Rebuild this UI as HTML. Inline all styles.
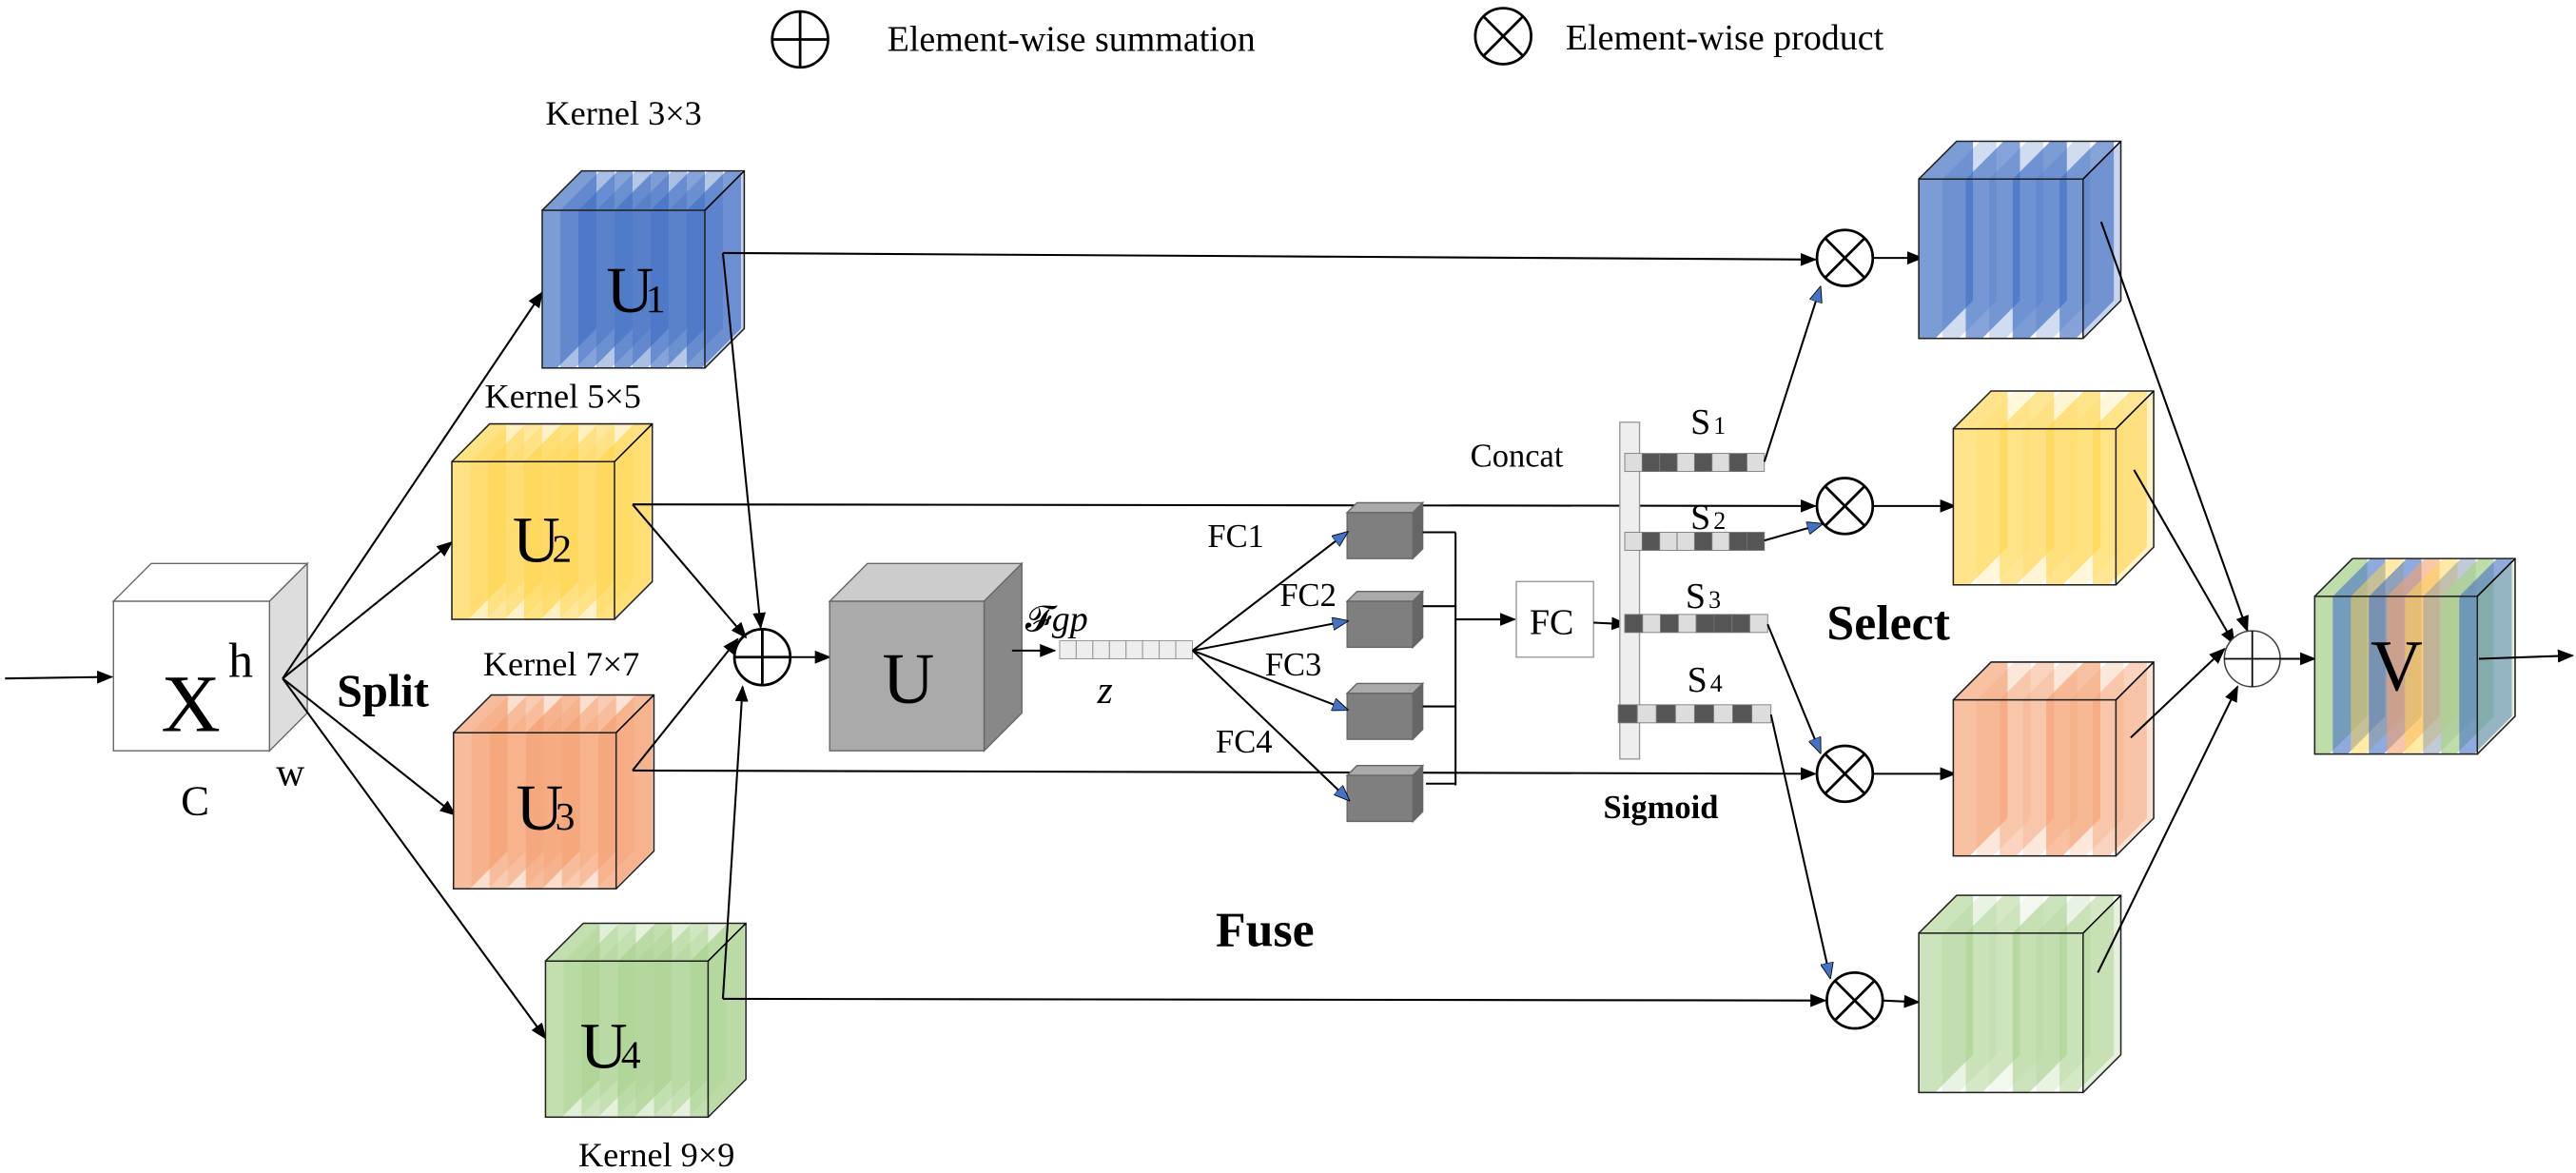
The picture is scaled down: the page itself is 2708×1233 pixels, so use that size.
<!DOCTYPE html>
<html><head><meta charset="utf-8"><style>
html,body{margin:0;padding:0;background:#fff;}
svg{display:block;}
svg text{font-family:"Liberation Serif","Times New Roman","DejaVu Serif",serif;}
</style></head><body>
<svg id="s" width="2708" height="1233" viewBox="0 0 1568 714" xmlns="http://www.w3.org/2000/svg">
<defs>
<marker id="ah" markerWidth="10" markerHeight="8" refX="9" refY="4" orient="auto" markerUnits="userSpaceOnUse"><path d="M0,0 L10,4 L0,8 z" fill="#000"/></marker>
<marker id="bh" markerWidth="10" markerHeight="8" refX="9" refY="4" orient="auto" markerUnits="userSpaceOnUse"><path d="M0,0 L10,4 L0,8 z" fill="#4472c4" stroke="#000" stroke-width="0.5"/></marker>
</defs>
<g id="g"></g>
</svg>
<script>
var g=document.getElementById('g');var out='';
function P(s){out+=s;}
function line(x1,y1,x2,y2,m,w){P('<line x1="'+x1+'" y1="'+y1+'" x2="'+x2+'" y2="'+y2+'" stroke="#000" stroke-width="'+(w||1.2)+'"'+(m?' marker-end="url(#'+m+')"':'')+'/>');}
function poly(pts,f,st,op){P('<polygon points="'+pts+'" fill="'+f+'" stroke="'+(st||'none')+'" stroke-width="0.8"'+(op!=null?' fill-opacity="'+op+'"':'')+'/>');}
function txt(x,y,s,sz,extra){P('<text x="'+x+'" y="'+y+'" font-size="'+sz+'" fill="#000" '+(extra||'')+'>'+s+'</text>');}
function cubeOutline(x,y,w,h,d){
 P('<rect x="'+x+'" y="'+y+'" width="'+w+'" height="'+h+'" fill="none" stroke="#222" stroke-width="0.9"/>');
 P('<polyline points="'+x+','+y+' '+(x+d)+','+(y-d)+' '+(x+w+d)+','+(y-d)+' '+(x+w+d)+','+(y+h-d)+' '+(x+w)+','+(y+h)+'" fill="none" stroke="#222" stroke-width="0.9"/>');
 line(x+w,y,x+w+d,y-d,null,0.9);
}
function solidCube(x,y,w,h,d,fr,tp,sd){
 poly(x+','+y+' '+(x+d)+','+(y-d)+' '+(x+w+d)+','+(y-d)+' '+(x+w)+','+y,tp,'#666');
 poly((x+w)+','+y+' '+(x+w+d)+','+(y-d)+' '+(x+w+d)+','+(y+h-d)+' '+(x+w)+','+(y+h),sd,'#666');
 P('<rect x="'+x+'" y="'+y+'" width="'+w+'" height="'+h+'" fill="'+fr+'" stroke="#666" stroke-width="0.8"/>');
}
function slab(x,y,h,d,t,sw,c,op){
 var a=x+t;poly(a+','+(y+h)+' '+a+','+y+' '+(a+d)+','+(y-d)+' '+(a+sw+d)+','+(y-d)+' '+(a+sw+d)+','+(y+h-d)+' '+(a+sw)+','+(y+h),c,null,op);
}
function stripedCube(x,y,w,h,d,cols,n,sw,opBase){
 P('<rect x="'+x+'" y="'+y+'" width="'+w+'" height="'+h+'" fill="#fff"/>');
 for(var i=0;i<n;i++){var c=cols[i%cols.length];slab(x,y,h,d,i*(w/n),sw,c,opBase[i%opBase.length]);}
 poly((x+w)+','+y+' '+(x+w+d)+','+(y-d)+' '+(x+w+d)+','+(y+h-d)+' '+(x+w)+','+(y+h),cols[0],null,0.3);
 cubeOutline(x,y,w,h,d);
}
P('<circle cx="487" cy="24" r="17" fill="none" stroke="#000" stroke-width="1.6"/>');line(470,24,504,24,null,1.6);line(487,7,487,41,null,1.6);
txt(540,31,'Element-wise summation',22);
P('<circle cx="915" cy="22" r="17" fill="none" stroke="#000" stroke-width="1.6"/>');line(903,10,927,34,null,1.6);line(927,10,903,34,null,1.6);
txt(953,30,'Element-wise product',22);
solidCube(69,366,95,91,23,'#fff','#fff','#ddd');
txt(98,445,'X',50);txt(139,412,'h',30);txt(110,496,'C',26);txt(168,478,'w',24);
line(3,413,68,412,'ah');
txt(205,430,'Split',28,'font-weight="bold"');
line(172,413,330,178,'ah');line(172,413,275,330,'ah');line(172,413,277,496,'ah');line(172,413,332,632,'ah');
var B='#4472c4',Y='#ffd54f',O='#f4a070',G='#a9d18e';
stripedCube(330,128,99,96,24,[B],9,9,[0.7,0.45,0.65,0.4]);
txt(369,190,'U',40);txt(393,190,'1',24);
txt(332,76,'Kernel 3×3',21);
txt(295,248,'Kernel 5×5',21);
stripedCube(275,281,99,96,23,[Y],9,10,[0.7,0.35,0.55,0.3]);
txt(312,342,'U',40);txt(336,342,'2',24);
txt(294,411,'Kernel 7×7',21);
stripedCube(276,446,99,95,23,[O],9,10,[0.7,0.35,0.55,0.3]);
txt(314,505,'U',40);txt(338,505,'3',24);
stripedCube(332,585,99,95,23,[G],9,10,[0.7,0.35,0.55,0.3]);
txt(353,650,'U',40);txt(378,650,'4',24);
txt(352,710,'Kernel 9×9',21);
P('<circle cx="464" cy="400" r="17" fill="#fff" stroke="#000" stroke-width="1.6"/>');line(447,400,481,400,null,1.6);line(464,383,464,417,null,1.6);
line(440,154,463,382,'ah');line(385,307,454,388,'ah');line(385,469,449,389,'ah');line(440,608,452,418,'ah');
line(440,154,1105,158,'ah');line(385,307,1105,308,'ah');line(385,469,1105,471,'ah');line(440,608,1111,609,'ah');
line(481,400,505,400,'ah');
solidCube(505,366,94,91,23,'#aaa','#ccc','#888');
txt(537,428,'U',44);
txt(624,384,'𝓕<tspan font-style="italic">gp</tspan>',22);
line(616,396,642,396,'ah');
for(var i=0;i<8;i++)P('<rect x="'+(645+i*10.1)+'" y="390" width="10.1" height="11" fill="#eee" stroke="#999" stroke-width="0.6"/>');
txt(668,428,'z',24,'font-style="italic"');
var fy=[307,361,417,467];
for(var i=0;i<4;i++){solidCube(820,fy[i]+5,40,28,6,'#7f7f7f','#aaa','#666');}
line(726,396,820,324,'bh');line(726,396,820,378,'bh');line(726,396,820,432,'bh');line(726,396,821,487,'bh');
txt(735,333,'FC1',20);txt(779,369,'FC2',20);txt(770,411,'FC3',20);txt(740,458,'FC4',20);
line(866,324,886,324);line(866,369,886,369);line(866,430,886,430);line(868,477,886,477);line(886,324,886,478);
line(886,377,922,377,'ah');
txt(895,284,'Concat',20);
P('<rect x="923" y="354" width="47" height="46" fill="#fff" stroke="#999" stroke-width="0.8"/>');txt(931,386,'FC',22);
line(970,379,990,380,'ah');
P('<rect x="986" y="257" width="12" height="205" fill="#eee" stroke="#999" stroke-width="0.8"/>');
var S=[['LDDLDLDL',989,276,1074],['LDLLDLDD',989,324,1074],['DLDLDDDL',989,374,1076],['DLDLDLDL',985,429,1078]];
for(var k=0;k<4;k++){var s=S[k],cw=(s[3]-s[1])/8;for(var i=0;i<8;i++)P('<rect x="'+(s[1]+i*cw)+'" y="'+s[2]+'" width="'+cw+'" height="11" fill="'+(s[0][i]=='D'?'#555':'#ddd')+'" stroke="#777" stroke-width="0.5"/>');}
txt(1029,264,'S',22);txt(1043,264,'1',15);txt(1029,322,'S',22);txt(1043,322,'2',15);txt(1026,370,'S',22);txt(1040,370,'3',15);txt(1027,421,'S',22);txt(1041,421,'4',15);
line(1074,281,1108,175,'bh');line(1074,329,1109,319,'bh');line(1076,380,1108,458,'bh');line(1078,435,1114,595,'bh');
txt(976,498,'Sigmoid',20,'font-weight="bold"');
txt(1112,389,'Select',30,'font-weight="bold"');
txt(740,576,'Fuse',30,'font-weight="bold"');
var px=[[1123,157],[1123,308],[1123,471],[1129,609]];
for(var i=0;i<4;i++){var c=px[i];P('<circle cx="'+c[0]+'" cy="'+c[1]+'" r="17" fill="#fff" stroke="#000" stroke-width="1.6"/>');line(c[0]-12,c[1]-12,c[0]+12,c[1]+12,null,1.6);line(c[0]+12,c[1]-12,c[0]-12,c[1]+12,null,1.6);}
line(1140,157,1170,157,'ah');line(1140,308,1190,308,'ah');line(1140,471,1190,471,'ah');line(1146,609,1168,610,'ah');
stripedCube(1168,109,100,97,23,[B],7,10,[0.7,0.25,0.65,0.25]);
stripedCube(1189,261,99,95,23,[Y],7,10,[0.65,0.2,0.6,0.25]);
stripedCube(1189,426,99,95,23,[O],7,10,[0.65,0.25,0.45,0.25]);
stripedCube(1168,568,100,97,23,[G],7,10,[0.6,0.25,0.5,0.15]);
line(1279,135,1368,384,'ah');line(1299,286,1360,392,'ah');line(1297,449,1354,395,'ah');line(1277,592,1362,418,'ah');
P('<circle cx="1371" cy="401" r="17" fill="#fff" stroke="#444" stroke-width="0.9"/>');line(1354,401,1388,401,null,1);line(1371,384,1371,418,null,1);
line(1388,401,1409,401,'ah');
stripedCube(1409,363,99,96,23,[G,B,Y,B,O,Y,'#8497b0'],9,9,[0.75,0.6,0.5,0.6,0.6,0.5,0.5]);
txt(1443,420,'V',44);
line(1509,401,1566,399,'ah');
g.innerHTML=out;
</script>
</body></html>
